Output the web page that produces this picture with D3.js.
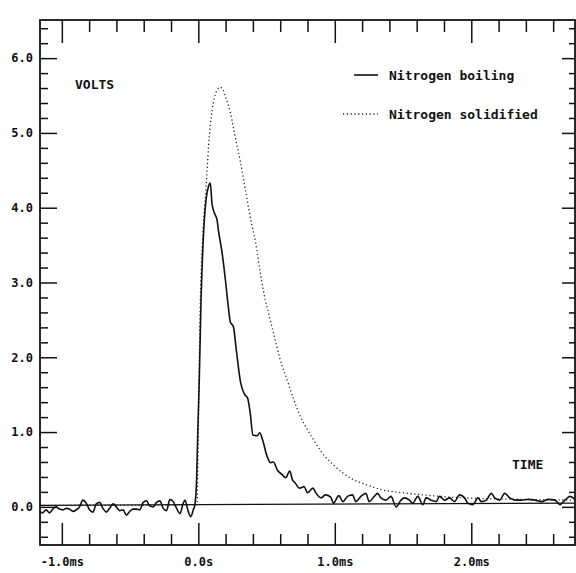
<!DOCTYPE html>
<html>
<head>
<meta charset="utf-8">
<script src="https://cdn.jsdelivr.net/npm/d3@7"></script>
<style>
  html, body { margin: 0; padding: 0; background: #fff; }
  svg { display: block; }
  text { font-family: "DejaVu Sans Mono", "Liberation Mono", monospace; fill: #111; font-weight: bold; }
</style>
</head>
<body>
<svg id="chart" width="576" height="573"></svg>
<script>
// ---------------- data ----------------
const timeDomain = [-1.16, 2.76];     // ms
const voltDomain = [-0.51, 6.51];     // V

const xMajorTicks = [-1, 0, 1, 2];
const xMajorLabels = ["-1.0ms", "0.0s", "1.0ms", "2.0ms"];
const xMinorTicks = [-0.8, -0.6, -0.4, -0.2, 0.2, 0.4, 0.6, 0.8, 1.2, 1.4, 1.6, 1.8, 2.2, 2.4, 2.6];
const yMajorTicks = [0, 1, 2, 3, 4, 5, 6];
const yMajorLabels = ["0.0", "1.0", "2.0", "3.0", "4.0", "5.0", "6.0"];
const yMinorTicks = [-0.4, -0.2, 0.2, 0.4, 0.6, 0.8, 1.2, 1.4, 1.6, 1.8, 2.2, 2.4, 2.6, 2.8,
  3.2, 3.4, 3.6, 3.8, 4.2, 4.4, 4.6, 4.8, 5.2, 5.4, 5.6, 5.8, 6.2, 6.4];

const seriesNames = ["Nitrogen boiling", "Nitrogen solidified"];

// zero reference line [t, V]
const baseline = [[-1.16, 0.02], [0.0, 0.03], [2.76, 0.05]];

// Nitrogen boiling: pre-trigger noise [t, V]
const boilingPre = [
  [-1.164,-0.06],[-1.140,-0.08],[-1.115,-0.04],[-1.091,-0.08],[-1.066,-0.03],[-1.042,0.00],
  [-1.017,-0.03],[-0.993,-0.04],[-0.968,-0.02],[-0.944,-0.03],[-0.919,-0.06],[-0.895,-0.04],
  [-0.870,0.00],[-0.846,0.09],[-0.821,0.05],[-0.797,-0.04],[-0.772,-0.07],[-0.748,0.04],
  [-0.723,0.06],[-0.699,-0.02],[-0.674,-0.07],[-0.650,-0.02],[-0.625,0.04],[-0.601,0.00],
  [-0.576,-0.05],[-0.551,-0.04],[-0.527,-0.11],[-0.502,-0.06],[-0.478,-0.03],[-0.453,-0.03],
  [-0.429,-0.04],[-0.404,0.06],[-0.380,0.08],[-0.355,0.01],[-0.331,0.00],[-0.306,0.06],
  [-0.282,0.08],[-0.257,-0.02],[-0.233,-0.05],[-0.208,0.10],[-0.184,0.07],[-0.159,-0.02],
  [-0.135,-0.09],[-0.110,0.05],[-0.098,0.09],[-0.074,-0.06],[-0.055,-0.13],[-0.037,-0.04],
  [-0.025,0.03]
];
// Nitrogen boiling: pulse and decay [t, V]
const boilingPulse = [
  [-0.012,0.40],[-0.004,1.00],[0.007,1.70],[0.020,2.77],[0.037,3.61],[0.059,4.14],[0.074,4.28],
  [0.088,4.33],[0.100,4.06],[0.110,3.97],[0.125,3.90],[0.137,3.84],[0.147,3.70],[0.174,3.40],
  [0.200,3.01],[0.220,2.67],[0.235,2.47],[0.257,2.41],[0.277,2.12],[0.310,1.66],[0.340,1.50],
  [0.360,1.46],[0.380,1.26],[0.400,0.96],[0.430,0.95],[0.450,0.99],[0.470,0.90],[0.505,0.67],
  [0.530,0.59],[0.550,0.60],[0.580,0.49],[0.615,0.43],[0.640,0.39],[0.670,0.48],[0.690,0.36],
  [0.710,0.32],[0.740,0.25],[0.775,0.27],[0.800,0.19],[0.840,0.25],[0.860,0.19],[0.900,0.12],
  [0.930,0.16],[0.970,0.13],[0.990,0.05],[1.030,0.15],[1.060,0.07]
];
// Nitrogen boiling: tail noise [t, V]
const boilingTail = [
  [1.093,0.14],[1.130,0.16],[1.154,0.07],[1.191,0.14],[1.228,0.18],[1.252,0.07],[1.289,0.14],
  [1.314,0.18],[1.338,0.12],[1.375,0.09],[1.412,0.14],[1.449,0.00],[1.485,0.09],[1.510,0.12],
  [1.547,0.09],[1.571,0.05],[1.608,0.14],[1.645,0.03],[1.669,0.12],[1.706,0.09],[1.743,0.07],
  [1.767,0.14],[1.804,0.09],[1.841,0.12],[1.877,0.07],[1.914,0.16],[1.951,0.12],[1.975,0.05],
  [2.012,0.03],[2.049,0.12],[2.074,0.07],[2.110,0.09],[2.147,0.18],[2.172,0.12],[2.208,0.09],
  [2.245,0.18],[2.282,0.12],[2.319,0.09],[2.368,0.09],[2.417,0.10],[2.466,0.09],[2.515,0.07],
  [2.564,0.10],[2.613,0.09],[2.650,0.03],[2.686,0.09],[2.723,0.14],[2.760,0.10]
];
// Nitrogen solidified [t, V]
const solidified = [
  [-1.16,0.02],[-0.01,0.03],[0.0,1.0],[0.015,2.77],[0.03,3.53],[0.06,4.37],[0.08,4.95],
  [0.11,5.40],[0.14,5.58],[0.16,5.61],[0.18,5.58],[0.20,5.48],[0.235,5.27],[0.27,4.95],
  [0.31,4.60],[0.345,4.24],[0.38,3.88],[0.42,3.53],[0.455,3.12],[0.49,2.77],[0.51,2.63],
  [0.55,2.33],[0.60,1.97],[0.65,1.70],[0.70,1.43],[0.75,1.20],[0.80,1.03],[0.85,0.88],
  [0.90,0.74],[0.99,0.56],[1.12,0.38],[1.24,0.29],[1.34,0.23],[1.49,0.19],[1.65,0.16],
  [1.85,0.13],[2.10,0.11],[2.40,0.10],[2.76,0.09]
];

// ---------------- layout ----------------
const plot = { left: 40, top: 20, right: 575, bottom: 545 };
const ink = "#111";

const svg = d3.select("#chart");
const x = d3.scaleLinear().domain(timeDomain).range([plot.left, plot.right]);
const y = d3.scaleLinear().domain(voltDomain).range([plot.bottom, plot.top]);

svg.append("defs").append("clipPath").attr("id", "clip")
  .append("rect").attr("x", plot.left).attr("y", plot.top)
  .attr("width", plot.right - plot.left).attr("height", plot.bottom - plot.top);

function styleAxis(g) {
  g.select(".domain").remove();
  g.selectAll(".tick line").attr("stroke", ink).attr("stroke-width", 1.5);
  g.selectAll(".tick text").attr("font-size", 12).attr("fill", ink)
    .attr("font-family", "'DejaVu Sans Mono', monospace").attr("font-weight", "bold");
}

// bottom axis (ticks upward, labels below)
svg.append("g").attr("transform", `translate(0,${plot.bottom})`)
  .call(d3.axisBottom(x).tickValues(xMinorTicks).tickSize(-11).tickFormat(""))
  .call(styleAxis);
svg.append("g").attr("transform", `translate(0,${plot.bottom})`)
  .call(d3.axisBottom(x).tickValues(xMajorTicks).tickSize(-22).tickPadding(12)
    .tickFormat((d, i) => xMajorLabels[i]))
  .call(styleAxis);

// top axis (ticks downward, no labels)
svg.append("g").attr("transform", `translate(0,${plot.top})`)
  .call(d3.axisTop(x).tickValues(xMinorTicks).tickSize(-12).tickFormat(""))
  .call(styleAxis);
svg.append("g").attr("transform", `translate(0,${plot.top})`)
  .call(d3.axisTop(x).tickValues(xMajorTicks).tickSize(-23).tickFormat(""))
  .call(styleAxis);

// left axis (ticks rightward, labels left)
svg.append("g").attr("transform", `translate(${plot.left},0)`)
  .call(d3.axisLeft(y).tickValues(yMinorTicks).tickSize(-8).tickFormat(""))
  .call(styleAxis);
svg.append("g").attr("transform", `translate(${plot.left},0)`)
  .call(d3.axisLeft(y).tickValues(yMajorTicks).tickSize(-17).tickPadding(7)
    .tickFormat((d, i) => yMajorLabels[i]))
  .call(styleAxis);

// right axis (ticks leftward)
svg.append("g").attr("transform", `translate(${plot.right},0)`)
  .call(d3.axisRight(y).tickValues(yMinorTicks).tickSize(-6).tickFormat(""))
  .call(styleAxis);
svg.append("g").attr("transform", `translate(${plot.right},0)`)
  .call(d3.axisRight(y).tickValues(yMajorTicks).tickSize(-13).tickFormat(""))
  .call(styleAxis);

// frame
svg.append("rect")
  .attr("x", plot.left).attr("y", plot.top)
  .attr("width", plot.right - plot.left).attr("height", plot.bottom - plot.top)
  .attr("fill", "none").attr("stroke", ink).attr("stroke-width", 1.8);

const line = d3.line().x(d => x(d[0])).y(d => y(d[1])).curve(d3.curveMonotoneX);
const straight = d3.line().x(d => x(d[0])).y(d => y(d[1]));

const g = svg.append("g").attr("clip-path", "url(#clip)");

// zero reference line
g.append("path").datum(baseline).attr("d", straight)
  .attr("fill", "none").attr("stroke", ink).attr("stroke-width", 1.3);

// solidified (dotted)
g.append("path").datum(solidified).attr("d", line)
  .attr("fill", "none").attr("stroke", "#222").attr("stroke-width", 1.3)
  .attr("stroke-dasharray", "1.2,2.6");

// boiling (solid)
const boiling = boilingPre.concat(boilingPulse, boilingTail);
g.append("path").datum(boiling).attr("d", line)
  .attr("fill", "none").attr("stroke", ink).attr("stroke-width", 1.6)
  .attr("stroke-linejoin", "round");

// axis titles
svg.append("text").attr("x", 75).attr("y", 89).attr("font-size", 13).text("VOLTS");
svg.append("text").attr("x", 512).attr("y", 469).attr("font-size", 13).text("TIME");

// legend
const legend = svg.append("g");
legend.append("line").attr("x1", 354).attr("x2", 378).attr("y1", 75).attr("y2", 75)
  .attr("stroke", ink).attr("stroke-width", 1.6);
legend.append("text").attr("x", 389).attr("y", 80).attr("font-size", 13).text(seriesNames[0]);
legend.append("line").attr("x1", 343).attr("x2", 378).attr("y1", 114).attr("y2", 114)
  .attr("stroke", "#222").attr("stroke-width", 1.3).attr("stroke-dasharray", "1.2,2.6");
legend.append("text").attr("x", 389).attr("y", 119).attr("font-size", 13).text(seriesNames[1]);
</script>
</body>
</html>
